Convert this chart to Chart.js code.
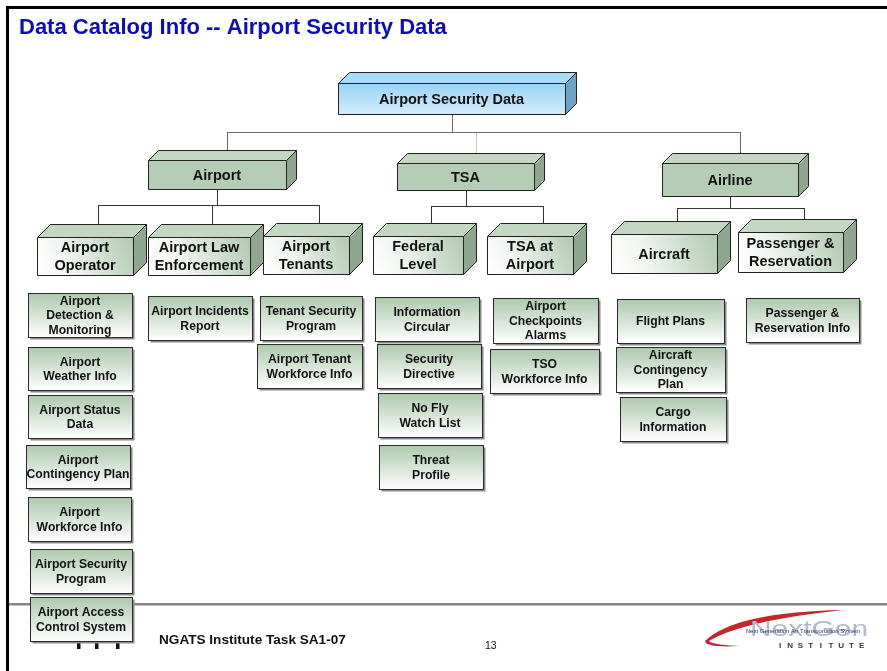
<!DOCTYPE html>
<html>
<head>
<meta charset="utf-8">
<title>Data Catalog Info -- Airport Security Data</title>
<script src="https://cdn.jsdelivr.net/npm/chart.js@4/dist/chart.umd.min.js"></script>
<style>
  html, body { margin: 0; padding: 0; background: #fff; }
  #wrap { width: 887px; height: 671px; }
</style>
</head>
<body>
<div id="wrap"><canvas id="chart1" width="887" height="671"></canvas></div>
<script>
// slide text
const slideTitle = 'Data Catalog Info -- Airport Security Data';
const footerText = 'NGATS Institute Task SA1-07';
const pageNumber = '13';

// tree: label, parent, level (0 root, 1 group, 2 sub group, 3 data item)
const nodeLabels = [
    'Airport Security Data',
    'Airport', 'TSA', 'Airline',
    'Airport\nOperator', 'Airport Law\nEnforcement', 'Airport\nTenants',
    'Federal\nLevel', 'TSA at\nAirport',
    'Aircraft', 'Passenger &\nReservation',
    'Airport\nDetection &\nMonitoring', 'Airport\nWeather Info', 'Airport Status\nData',
    'Airport\nContingency Plan', 'Airport\nWorkforce Info', 'Airport Security\nProgram',
    'Airport Access\nControl System',
    'Airport Incidents\nReport',
    'Tenant Security\nProgram', 'Airport Tenant\nWorkforce Info',
    'Information\nCircular', 'Security\nDirective', 'No Fly\nWatch List', 'Threat\nProfile',
    'Airport\nCheckpoints\nAlarms', 'TSO\nWorkforce Info',
    'Flight Plans', 'Aircraft\nContingency\nPlan', 'Cargo\nInformation',
    'Passenger &\nReservation Info'
];
const nodeParents = [
    -1,
    0, 0, 0,
    1, 1, 1,
    2, 2,
    3, 3,
    4, 4, 4, 4, 4, 4, 4,
    5,
    6, 6,
    7, 7, 7, 7,
    8, 8,
    9, 9, 9,
    10
];
const nodeLevels = [
    0,
    1, 1, 1,
    2, 2, 2, 2, 2, 2, 2,
    3, 3, 3, 3, 3, 3, 3, 3, 3, 3, 3, 3, 3, 3, 3, 3, 3, 3, 3, 3
];

// layout in page units: front face [x, y, w, h]
const boxLayout = [
    [338, 83, 227, 31],
    [148, 160, 138, 29], [397, 163, 137, 27], [662, 163, 136, 33],
    [37, 237, 96, 38], [148, 237, 102, 38], [263, 236, 86, 38],
    [373, 236, 90, 38], [487, 236, 86, 38],
    [611, 234, 106, 39], [738, 232, 105, 40],
    [28, 293, 104, 44], [28, 347, 104, 43], [28, 395, 104, 43],
    [26, 445, 104, 43], [28, 497, 103, 44], [30, 549, 102, 44],
    [30, 597, 102, 44],
    [148, 296, 104, 44],
    [260, 296, 102, 44], [257, 344, 105, 44],
    [375, 297, 104, 44], [377, 344, 104, 44], [378, 393, 104, 44], [379, 445, 104, 44],
    [493, 298, 105, 45], [490, 349, 109, 44],
    [617, 299, 107, 44], [616, 347, 109, 45], [620, 397, 106, 44],
    [746, 298, 113, 44]
];
const busY = { 0: 132.5, 1: 205.5, 2: 206.5, 3: 208.5 };
const boxDepth = [11, 10, 13, 0];
const fontFamily = '"Liberation Sans", Arial, sans-serif';

// connectors: parent bottom centre -> bus -> child top face centre
const linkSets = [];
nodeLabels.forEach(function (label, i) {
    const lvl = nodeLevels[i];
    if (lvl < 1 || lvl > 2) return;
    const p = nodeParents[i];
    const pb = boxLayout[p], cb = boxLayout[i];
    const d = boxDepth[lvl];
    const px = Math.round(pb[0] + pb[2] / 2) + 0.5;
    const cx = Math.round(cb[0] + d + cb[2] / 2) + 0.5;
    let col = '#333333';
    if (p === 0) col = i === 2 ? '#c9c9a6' : '#6a6a6a';
    linkSets.push({
        label: 'link ' + i,
        data: [
            { x: px, y: pb[1] + pb[3] },
            { x: px, y: busY[p] },
            { x: cx, y: busY[p] },
            { x: cx, y: cb[1] - d }
        ],
        showLine: true,
        borderColor: col,
        borderWidth: 1,
        pointRadius: 0,
        tension: 0,
        fill: false,
        // the pale TSA drop goes underneath the grey bus
        order: i === 2 ? 2 : 1
    });
});

const boxSet = {
    label: 'nodes',
    data: boxLayout.map(function (b) { return { x: b[0] + b[2] / 2, y: b[1] + b[3] / 2 }; }),
    pointRadius: 0,
    showLine: false
};

function poly(ctx, pts, fill) {
    ctx.beginPath();
    ctx.moveTo(pts[0][0], pts[0][1]);
    for (let k = 1; k < pts.length; k++) ctx.lineTo(pts[k][0], pts[k][1]);
    ctx.closePath();
    ctx.fillStyle = fill;
    ctx.fill();
    ctx.stroke();
}

function drawBlock(ctx, x, y, w, h, d, lvl) {
    ctx.strokeStyle = '#222';
    ctx.lineWidth = 1;
    const top = lvl === 0 ? '#a9dcf8' : '#c3d7c3';
    const side = lvl === 0 ? '#6ca3c4' : '#8ea78e';
    poly(ctx, [[x, y], [x + d, y - d], [x + w + d, y - d], [x + w, y]], top);
    poly(ctx, [[x + w, y], [x + w + d, y - d], [x + w + d, y + h - d], [x + w, y + h]], side);
    let front;
    if (lvl === 0) {
        front = ctx.createLinearGradient(0, y, 0, y + h);
        front.addColorStop(0, '#9bd3f4');
        front.addColorStop(1, '#d3ecfb');
    } else if (lvl === 1) {
        front = '#b5cdb5';
    } else {
        front = ctx.createLinearGradient(x, y + h, x + w, y);
        front.addColorStop(0, '#ffffff');
        front.addColorStop(0.35, '#eef4ee');
        front.addColorStop(1, '#b0c9b0');
    }
    poly(ctx, [[x, y], [x + w, y], [x + w, y + h], [x, y + h]], front);
}

function drawLeaf(ctx, x, y, w, h) {
    ctx.fillStyle = '#8a8a8a';
    ctx.fillRect(x + 2, y + 2, w, h);
    const g = ctx.createLinearGradient(0, y, 0, y + h);
    g.addColorStop(0, '#adc9ad');
    g.addColorStop(1, '#ffffff');
    ctx.fillStyle = g;
    ctx.fillRect(x, y, w, h);
    ctx.strokeStyle = '#2a2a2a';
    ctx.lineWidth = 1;
    ctx.strokeRect(x, y, w, h);
}

const slidePlugin = {
    id: 'slide',
    beforeDatasetsDraw(chart) {
        const ctx = chart.ctx;
        const sx = chart.scales.x, sy = chart.scales.y;
        const X = function (v) { return sx.getPixelForValue(v); };
        const Y = function (v) { return sy.getPixelForValue(v); };
        ctx.save();
        // frame
        ctx.fillStyle = '#000';
        ctx.fillRect(X(6), Y(6), X(887) - X(6), Y(9) - Y(6));
        ctx.fillRect(X(6), Y(6), X(9) - X(6), Y(671) - Y(6));
        // footer rule
        ctx.fillStyle = '#858585';
        ctx.fillRect(X(9), Y(603), X(887) - X(9), Y(605.5) - Y(603));
        // marks under the last box
        ctx.fillStyle = '#111';
        [77, 95, 116].forEach(function (m) {
            ctx.fillRect(X(m), Y(638), X(m + 3.5) - X(m), Y(649) - Y(638));
        });
        // title
        ctx.fillStyle = '#0b0bc6';
        ctx.font = 'bold 22px ' + fontFamily;
        ctx.textAlign = 'left';
        ctx.textBaseline = 'alphabetic';
        ctx.fillText(slideTitle, X(19), Y(33.5));
        // footer
        ctx.fillStyle = '#111';
        ctx.font = 'bold 13.6px ' + fontFamily;
        ctx.fillText(footerText, X(159), Y(644));
        ctx.font = '10.5px ' + fontFamily;
        ctx.fillText(pageNumber, X(485), Y(649));
        // logo
        ctx.fillStyle = '#c4262b';
        ctx.beginPath();
        ctx.moveTo(X(705), Y(641));
        ctx.quadraticCurveTo(X(735), Y(612), X(843), Y(610));
        ctx.quadraticCurveTo(X(742), Y(621), X(709), Y(641));
        ctx.quadraticCurveTo(X(712), Y(645), X(740), Y(646));
        ctx.quadraticCurveTo(X(706), Y(648), X(705), Y(641));
        ctx.fill();
        ctx.save();
        ctx.translate(X(750), Y(636));
        ctx.scale(1.36, 1);
        ctx.fillStyle = '#b2bacb';
        ctx.font = '22px ' + fontFamily;
        ctx.fillText('NextGen', 0, 0);
        ctx.restore();
        ctx.fillStyle = '#2a3560';
        ctx.font = '6px ' + fontFamily;
        ctx.textAlign = 'center';
        ctx.fillText('Next Generation Air Transportation System', X(803), Y(633));
        ctx.font = 'bold 8px ' + fontFamily;
        'INSTITUTE'.split('').forEach(function (c, k) {
            ctx.fillText(c, X(780 + k * 10.2), Y(648));
        });
        ctx.restore();
    },
    afterDatasetsDraw(chart) {
        const ctx = chart.ctx;
        const sx = chart.scales.x, sy = chart.scales.y;
        const meta = chart.getDatasetMeta(chart.data.datasets.length - 1);
        ctx.save();
        meta.data.forEach(function (pt, i) {
            const b = boxLayout[i];
            const w = sx.getPixelForValue(b[0] + b[2]) - sx.getPixelForValue(b[0]);
            const h = sy.getPixelForValue(b[1] + b[3]) - sy.getPixelForValue(b[1]);
            const x = Math.round(pt.x - w / 2) + 0.5;
            const y = Math.round(pt.y - h / 2) + 0.5;
            const lvl = nodeLevels[i];
            let size, lh;
            if (lvl === 3) {
                drawLeaf(ctx, x, y, w, h);
                size = 12.2; lh = 14.5;
            } else {
                drawBlock(ctx, x, y, w, h, boxDepth[lvl], lvl);
                size = 14.5; lh = 18;
            }
            const lines = nodeLabels[i].split('\n');
            ctx.fillStyle = '#111';
            ctx.font = 'bold ' + size + 'px ' + fontFamily;
            ctx.textAlign = 'center';
            ctx.textBaseline = 'middle';
            lines.forEach(function (t, k) {
                ctx.fillText(t, pt.x, pt.y + (k - (lines.length - 1) / 2) * lh + 1);
            });
        });
        ctx.restore();
    }
};

const chart1 = document.getElementById('chart1').getContext('2d');
const myChart = new Chart(chart1, {
    type: 'scatter',
    data: { datasets: linkSets.concat([boxSet]) },
    options: {
        responsive: false,
        animation: false,
        events: [],
        layout: { padding: 0 },
        scales: {
            x: { type: 'linear', min: 0, max: 887, display: false },
            y: { type: 'linear', min: 0, max: 671, reverse: true, display: false }
        },
        plugins: {
            legend: { display: false },
            tooltip: { enabled: false }
        }
    },
    plugins: [slidePlugin]
});
</script>
</body>
</html>
